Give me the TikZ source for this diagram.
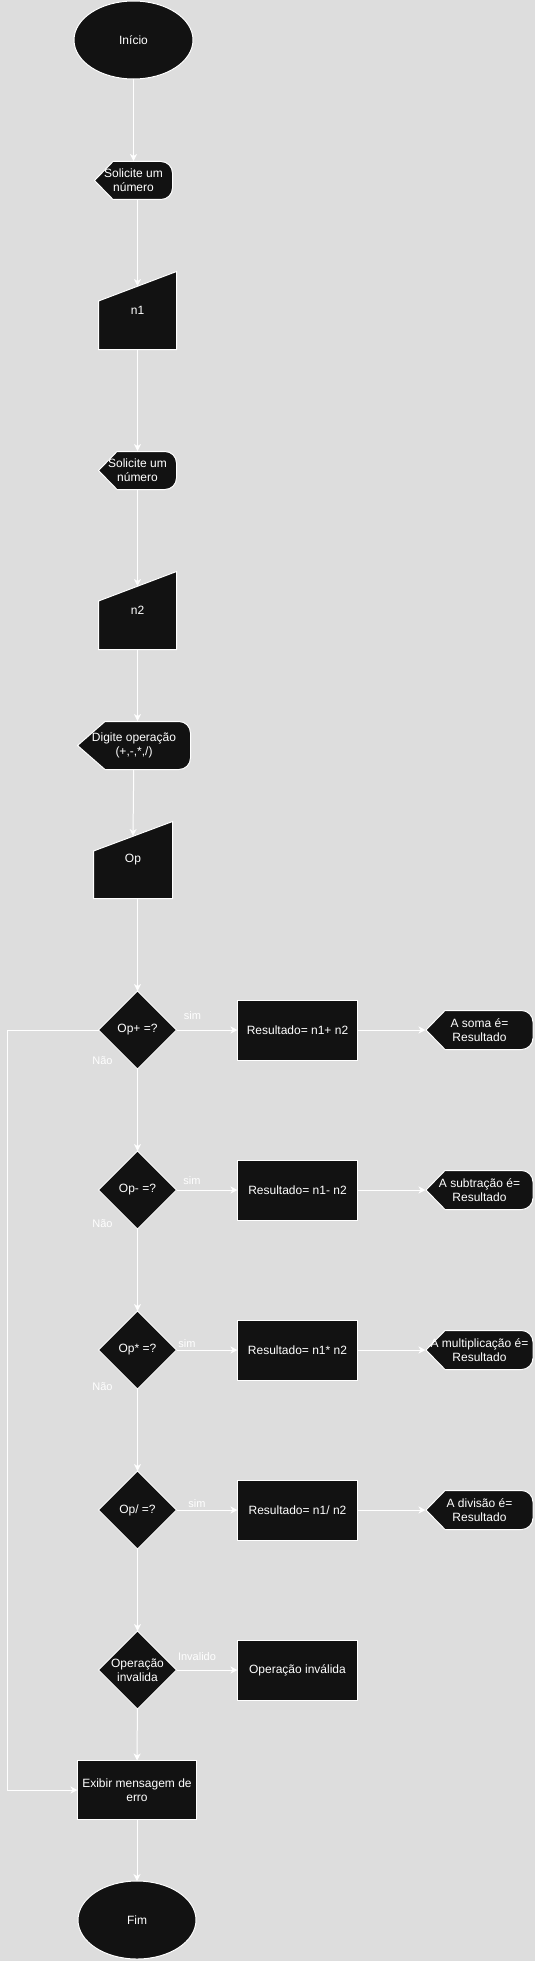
\documentclass[tikz,border=0pt]{standalone}
\usepackage{fontspec}
\setmainfont{Liberation Sans}
\usepackage{xcolor}
\usepackage{tikz}
\usetikzlibrary{shapes.geometric, arrows.meta, positioning}

\definecolor{bggray}{HTML}{DDDDDD}
\definecolor{boxfill}{HTML}{121212}

\begin{document}
\begin{tikzpicture}[
    x=1pt, y=1pt,
    boxfont/.style={text=white, font=\fontsize{12}{14}\selectfont},
    terminal/.style={ellipse, draw=white, fill=boxfill, line width=1pt, outer sep=0pt, minimum width=119pt, minimum height=78pt, boxfont},
    display/.style 2 args={rectangle, minimum width=#1, minimum height=39pt, inner sep=0pt, outer sep=0pt, align=center, boxfont,
        path picture={
            \filldraw[fill=boxfill, draw=white, line width=1pt]
                ([xshift=0.5pt]path picture bounding box.west)
                -- ([shift={(#2,-0.5pt)}]path picture bounding box.north west)
                -- ([shift={(-12pt,-0.5pt)}]path picture bounding box.north east)
                arc[start angle=90, end angle=0, radius=11.5pt]
                -- ([shift={(-0.5pt,12pt)}]path picture bounding box.south east)
                arc[start angle=0, end angle=-90, radius=11.5pt]
                -- ([shift={(#2,0.5pt)}]path picture bounding box.south west) -- cycle;
        }},
    manual/.style={rectangle, minimum width=79pt, minimum height=79pt, inner sep=0pt, outer sep=0pt, boxfont,
        path picture={
            \filldraw[fill=boxfill, draw=white, line width=1pt]
                ([shift={(0.5pt,0.5pt)}]path picture bounding box.south west)
                -- ([shift={(0.5pt,-30pt)}]path picture bounding box.north west)
                -- ([shift={(-0.5pt,-0.5pt)}]path picture bounding box.north east)
                -- ([shift={(-0.5pt,0.5pt)}]path picture bounding box.south east) -- cycle;
        }},
    decision/.style={diamond, aspect=1, draw=white, fill=boxfill, line width=1pt, inner sep=0pt, outer sep=0pt, minimum width=78pt, minimum height=78pt, align=center, boxfont},
    process/.style={rectangle, draw=white, fill=boxfill, line width=1pt, inner sep=0pt, outer sep=0pt, minimum width=120pt, minimum height=60pt, align=center, boxfont},
    arrow/.style={draw=white, line width=1pt, -{Stealth[length=7pt, width=7pt, inset=2pt]}},
    labeltext/.style={text=white, font=\fontsize{11}{13}\selectfont, inner sep=1pt}
]
    \path[use as bounding box, fill=bggray] (0,0) rectangle (535,-1961);

    % Entrada dos dados
    \node (inicio) [terminal] at (133.5,-40) {Início};
    \node (sol1) [display={79pt}{19pt}, below=82pt of inicio] {Solicite um\\número};
    \node (n1) [manual, below=71pt of sol1, xshift=4pt] {n1};
    \node (sol2) [display={79pt}{19pt}, below=101pt of n1] {Solicite um\\número};
    \node (n2) [manual, below=81pt of sol2] {n2};
    \node (dig) [display={114pt}{28pt}, minimum height=49pt, below=71pt of n2, xshift=-3.5pt] {Digite operação\\(+,-,*,/)};
    \node (op) [manual, minimum width=80pt, minimum height=78pt, below=51pt of dig, xshift=-1pt] {Op};

    % Decisoes
    \node (d1) [decision, below=92pt of op, xshift=4.5pt] {Op+ =?};
    \node (d2) [decision, below=82pt of d1] {Op- =?};
    \node (d3) [decision, below=82pt of d2] {Op* =?};
    \node (d4) [decision, below=82pt of d3] {Op/ =?};
    \node (d5) [decision, below=82pt of d4] {Operação\\invalida};

    % Resultados
    \node (r1) [process, right=61pt of d1] {Resultado= n1+ n2};
    \node (r2) [process, right=61pt of d2] {Resultado= n1- n2};
    \node (r3) [process, right=61pt of d3] {Resultado= n1* n2};
    \node (r4) [process, right=61pt of d4] {Resultado= n1/ n2};
    \node (r5) [process, right=61pt of d5] {Operação inválida};

    \node (s1) [display={108pt}{19.5pt}, minimum height=40pt, right=68pt of r1] {A soma é=\\Resultado};
    \node (s2) [display={108pt}{19.5pt}, minimum height=40pt, right=68pt of r2] {A subtração é=\\Resultado};
    \node (s3) [display={108pt}{19.5pt}, minimum height=40pt, right=68pt of r3] {A multiplicação é=\\Resultado};
    \node (s4) [display={108pt}{19.5pt}, minimum height=40pt, right=68pt of r4] {A divisão é=\\Resultado};

    % Fim
    \node (erro) [process, minimum width=119pt, minimum height=59pt, below=51.5pt of d5, xshift=-0.5pt] {Exibir mensagem de\\erro};
    \node (fim) [terminal, minimum width=118pt, below=61.5pt of erro] {Fim};

    % Setas
    \draw [arrow] (inicio) -- (sol1);
    \draw [arrow] (sol1.south -| n1.north) -- ([yshift=-15pt]n1.north);
    \draw [arrow] (n1) -- (sol2);
    \draw [arrow] (sol2) -- ([yshift=-15pt]n2.north);
    \draw [arrow] (n2.south) -- (n2.south |- dig.north);
    \draw [arrow] (dig) -- ([yshift=-15pt]op.north);
    \draw [arrow] (op.south -| d1.north) -- (d1.north);

    \draw [arrow] (d1) -- node [labeltext, pos=0, xshift=16pt, yshift=14pt] {sim} (r1);
    \draw [arrow] (d2) -- node [labeltext, pos=0, xshift=15.5pt, yshift=9.5pt] {sim} (r2);
    \draw [arrow] (d3) -- node [labeltext, pos=0, xshift=10.5pt, yshift=6pt] {sim} (r3);
    \draw [arrow] (d4) -- node [labeltext, pos=0, xshift=20.5pt, yshift=6pt] {sim} (r4);
    \draw [arrow] (d5) -- node [labeltext, pos=0, xshift=20.5pt, yshift=13pt] {Invalido} (r5);

    \draw [arrow] (r1) -- (s1);
    \draw [arrow] (r2) -- (s2);
    \draw [arrow] (r3) -- (s3);
    \draw [arrow] (r4) -- (s4);

    \draw [arrow] (d1) -- node [labeltext, pos=0, xshift=-35pt, yshift=8pt] {Não} (d2);
    \draw [arrow] (d2) -- node [labeltext, pos=0, xshift=-35pt, yshift=5pt] {Não} (d3);
    \draw [arrow] (d3) -- node [labeltext, pos=0, xshift=-35pt, yshift=2pt] {Não} (d4);
    \draw [arrow] (d4) -- (d5);
    \draw [arrow] (d5) -- (erro);
    \draw [arrow] (d1.west) -- ++(-91,0) |- (erro.west);
    \draw [arrow] (erro) -- (fim);
\end{tikzpicture}
\end{document}
